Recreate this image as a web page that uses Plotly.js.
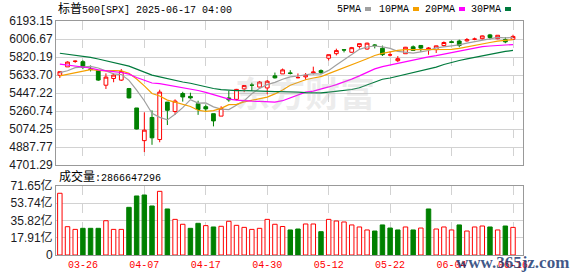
<!DOCTYPE html>
<html><head><meta charset="utf-8">
<script src="https://cdn.plot.ly/plotly-3.0.1.min.js"></script>
<style>html,body{margin:0;padding:0;background:#fff}#chart{width:578px;height:276px}</style>
</head><body><div id="chart"></div>
<script>
// ---- data ----
const dates = ['03-21','03-24','03-25','03-26','03-27','03-28','03-31','04-01','04-02','04-03','04-04','04-07','04-08','04-09','04-10','04-11','04-14','04-15','04-16','04-17','04-21','04-22','04-23','04-24','04-25','04-28','04-29','04-30','05-01','05-02','05-05','05-06','05-07','05-08','05-09','05-12','05-13','05-14','05-15','05-16','05-19','05-20','05-21','05-22','05-23','05-27','05-28','05-29','05-30','06-02','06-03','06-04','06-05','06-06','06-09','06-10','06-11','06-12','06-13','06-16'];
const opens  = [5630.73,5718.08,5775.05,5771.66,5695.64,5679.33,5527.91,5597.53,5580.76,5492.87,5292.14,4953.79,5193.57,4965.28,5353.15,5255.56,5441.96,5411.99,5335.75,5305.45,5232.94,5207.67,5395.92,5381.38,5489.73,5529.22,5508.87,5499.44,5625.14,5645.08,5655.32,5605.88,5614.56,5655.80,5679.15,5807.34,5854.69,5895.00,5869.12,5929.09,5902.88,5944.66,5910.45,5841.26,5781.89,5854.07,5925.54,5939.92,5903.67,5896.68,5938.56,5978.94,5985.67,5987.06,6004.60,6009.91,6049.38,6009.90,6000.56,6004.00];
const highs  = [5670.84,5775.14,5783.58,5786.95,5732.28,5685.89,5650.57,5650.83,5695.31,5499.53,5292.14,5246.57,5267.47,5481.34,5353.15,5381.46,5459.46,5450.41,5367.24,5328.31,5232.94,5309.60,5469.69,5489.40,5528.11,5553.66,5571.95,5581.84,5658.91,5700.70,5683.35,5649.84,5654.33,5720.10,5691.67,5844.19,5906.63,5896.68,5924.43,5958.62,5968.61,5953.06,5938.37,5878.08,5829.51,5924.33,5939.92,5943.13,5922.14,5937.40,5981.35,5990.48,5999.70,6016.87,6021.31,6043.01,6059.40,6045.43,6026.16,6050.83];
const lows   = [5603.10,5718.08,5759.93,5694.41,5670.94,5572.42,5488.73,5558.52,5571.48,5390.83,5069.90,4835.04,4910.42,4937.04,5115.27,5220.77,5358.02,5386.44,5220.79,5255.58,5101.63,5207.67,5356.14,5371.96,5455.86,5468.64,5505.70,5433.24,5597.35,5644.48,5639.76,5598.83,5583.20,5639.78,5644.09,5784.04,5836.53,5867.82,5865.21,5907.36,5895.69,5909.26,5830.91,5825.82,5767.41,5854.07,5886.69,5873.80,5843.66,5861.43,5929.00,5966.11,5921.20,5978.63,5994.18,6000.26,6002.32,6003.88,5963.21,6004.00];
const closes = [5667.56,5767.57,5776.65,5712.20,5693.31,5580.94,5611.85,5633.07,5670.97,5396.52,5074.08,5062.25,4982.77,5456.90,5268.05,5363.36,5405.97,5396.63,5275.70,5282.70,5158.20,5287.76,5375.86,5484.77,5525.21,5528.75,5560.83,5569.06,5604.14,5686.67,5650.38,5606.91,5631.28,5663.94,5659.91,5844.19,5886.55,5892.58,5916.93,5958.38,5963.60,5940.46,5844.61,5842.01,5802.82,5921.54,5888.55,5912.17,5911.69,5935.94,5970.37,5970.81,5939.30,6000.36,6005.88,6038.81,6022.24,6045.26,5976.97,6033.11];
// closes of the 29 sessions before 03-21 (for the moving averages)
const priorCloses = [6025.99,6066.44,6068.50,6051.97,6115.07,6114.63,6129.58,6144.15,6117.52,6013.13,5983.25,5955.25,5956.06,5861.57,5954.50,5849.72,5778.15,5842.63,5738.52,5770.20,5614.56,5572.07,5599.30,5521.52,5638.94,5675.12,5614.66,5675.29,5662.89];
// volume in 亿 (1e8)
const volumes = [64.1,29.4,26.6,27.7,27.7,27.7,35.6,26.6,26.6,49.5,61.3,62.3,50.9,66.1,47.8,37.0,31.9,27.7,32.9,30.5,29.1,29.8,35.0,30.8,28.7,26.6,27.7,37.0,31.9,29.6,26.0,27.0,32.2,32.2,24.2,37.0,35.3,34.3,31.2,29.1,26.0,24.9,31.2,28.0,26.0,29.1,26.0,28.0,47.8,27.0,29.1,26.0,31.2,24.9,29.1,30.1,29.1,26.0,30.1,28.67];
const xTickLabels = ['03-26','04-07','04-17','04-30','05-12','05-22','06-04','06-16'];
const priceTicks = [4701.29,4887.77,5074.25,5260.74,5447.22,5633.70,5820.19,6006.67,6193.15];
const volTicks = [0,17.91,35.82,53.74,71.65];
const maPeriods = [5,10,20,30];
const maNames = ['5PMA','10PMA','20PMA','30PMA'];
const maColors = ['#a0a0a0','#f5a000','#ff00ff','#007a3d'];

// ---- build ----
const UP='#ff0000', DOWN='#008000';
const all = priorCloses.concat(closes);
function ma(n){
  return closes.map((_,i)=>{
    const j=i+priorCloses.length; let s=0;
    for(let k=j-n+1;k<=j;k++) s+=all[k];
    return s/n;
  });
}
const volUp = closes.map((c,i)=> c >= all[i+priorCloses.length-1]);

const traces = [];
traces.push({type:'candlestick', x:dates, open:opens, high:highs, low:lows, close:closes,
  xaxis:'x', yaxis:'y', whiskerwidth:0,
  increasing:{line:{color:UP,width:1}, fillcolor:'#ffffff'},
  decreasing:{line:{color:DOWN,width:1}, fillcolor:DOWN},
  hoverinfo:'skip', showlegend:false});
maPeriods.forEach((n,k)=>{
  traces.push({type:'scatter', mode:'lines', x:dates, y:ma(n), xaxis:'x', yaxis:'y',
    line:{color:maColors[k], width:1.2}, hoverinfo:'skip', name:maNames[k]});
});
traces.push({type:'bar', x:dates, y:volumes, xaxis:'x2', yaxis:'y2',
  marker:{color:volUp.map(u=>u?'#ffffff':DOWN), line:{color:volUp.map(u=>u?UP:DOWN), width:1}},
  hoverinfo:'skip'});

const W=578,H=276;
const px=x=>x/W, py=y=>1-y/H;
const xr=[-0.5,60.3];
const monoFont='Liberation Mono, DejaVu Sans Mono, Noto Sans CJK SC, monospace';

const annotations = [
  {xref:'paper',yref:'paper',x:px(56),y:py(9),xanchor:'left',yanchor:'middle',showarrow:false,
   text:'<span style="font-size:12px">标普</span>500[SPX] 2025-06-17 04:00',
   font:{family:monoFont,size:10,color:'#000'}},
  {xref:'paper',yref:'paper',x:px(57),y:py(177),xanchor:'left',yanchor:'middle',showarrow:false,
   text:'<span style="font-size:12px">成交量</span>:2866647296',
   font:{family:monoFont,size:10,color:'#000'}},
  {xref:'paper',yref:'paper',x:px(305),y:py(92),xanchor:'center',yanchor:'middle',showarrow:false,
   text:'<b>东方财富</b>', font:{family:'Noto Sans CJK SC',size:35,color:'rgba(170,170,170,0.22)'}},
  {xref:'paper',yref:'paper',x:px(571),y:py(262),xanchor:'right',yanchor:'middle',showarrow:false,
   text:'<b>www.365jz.com</b>', font:{family:'Liberation Serif, serif',size:17,color:'rgba(29,59,115,0.85)'}}
];
const legendTextRight=[362,410,456,502];
const swatchX=[[365,371],[413,419],[459,465],[505,511]];
const shapes=[];
maNames.forEach((nm,k)=>{
  annotations.push({xref:'paper',yref:'paper',x:px(legendTextRight[k]+1),y:py(9),xanchor:'right',yanchor:'middle',
    showarrow:false,text:nm,font:{family:monoFont,size:10,color:'#000'}});
  shapes.push({type:'rect',xref:'paper',yref:'paper',x0:px(swatchX[k][0]),x1:px(swatchX[k][1]),
    y0:py(11),y1:py(7),fillcolor:maColors[k],line:{width:0}});
});

const gridc='#d2d2d2';
const layout = {
  width:W, height:H, margin:{l:0,r:0,t:0,b:0}, paper_bgcolor:'#fff', plot_bgcolor:'#fff',
  showlegend:false, bargap:0.42, boxgap:0.3,
  font:{family:'Liberation Sans, Arial, Noto Sans CJK SC, sans-serif', size:12, color:'#1a1a22'},
  xaxis:{type:'category', domain:[px(56),px(523)], range:xr, anchor:'y', showticklabels:false,
    tickvals:xTickLabels, showgrid:true, gridcolor:gridc, griddash:'dash', gridwidth:1,
    showline:true, linecolor:'#999', linewidth:1, mirror:true, ticks:'', zeroline:false,
    rangeslider:{visible:false}, fixedrange:true},
  yaxis:{domain:[py(165),py(21)], range:[priceTicks[0],priceTicks[priceTicks.length-1]], anchor:'x',
    tickvals:priceTicks, ticktext:priceTicks.map(v=>v.toFixed(2)), showgrid:true, gridcolor:gridc,
    showline:true, linecolor:'#999', linewidth:1, mirror:true, ticks:'', zeroline:false, fixedrange:true,
    tickfont:{size:12,color:'#1a1a22'}},
  xaxis2:{type:'category', domain:[px(56),px(523)], range:xr, anchor:'y2',
    tickvals:xTickLabels, ticktext:xTickLabels, tickfont:{family:monoFont,size:10,color:'#ff0000'},
    showgrid:true, gridcolor:gridc, griddash:'dash', gridwidth:1,
    showline:true, linecolor:'#999', linewidth:1, mirror:true, ticks:'', zeroline:false, fixedrange:true},
  yaxis2:{domain:[py(255),py(186)], range:[volTicks[0],volTicks[volTicks.length-1]], anchor:'x2',
    tickvals:volTicks, ticktext:volTicks.map(v=>v===0?'0':v.toFixed(2)+'亿'), showgrid:true, gridcolor:gridc,
    showline:true, linecolor:'#999', linewidth:1, mirror:true, ticks:'', zeroline:false, fixedrange:true,
    tickfont:{size:12,color:'#1a1a22'}},
  annotations:annotations, shapes:shapes
};
Plotly.newPlot('chart', traces, layout, {staticPlot:true, displayModeBar:false});
</script>
</body></html>
